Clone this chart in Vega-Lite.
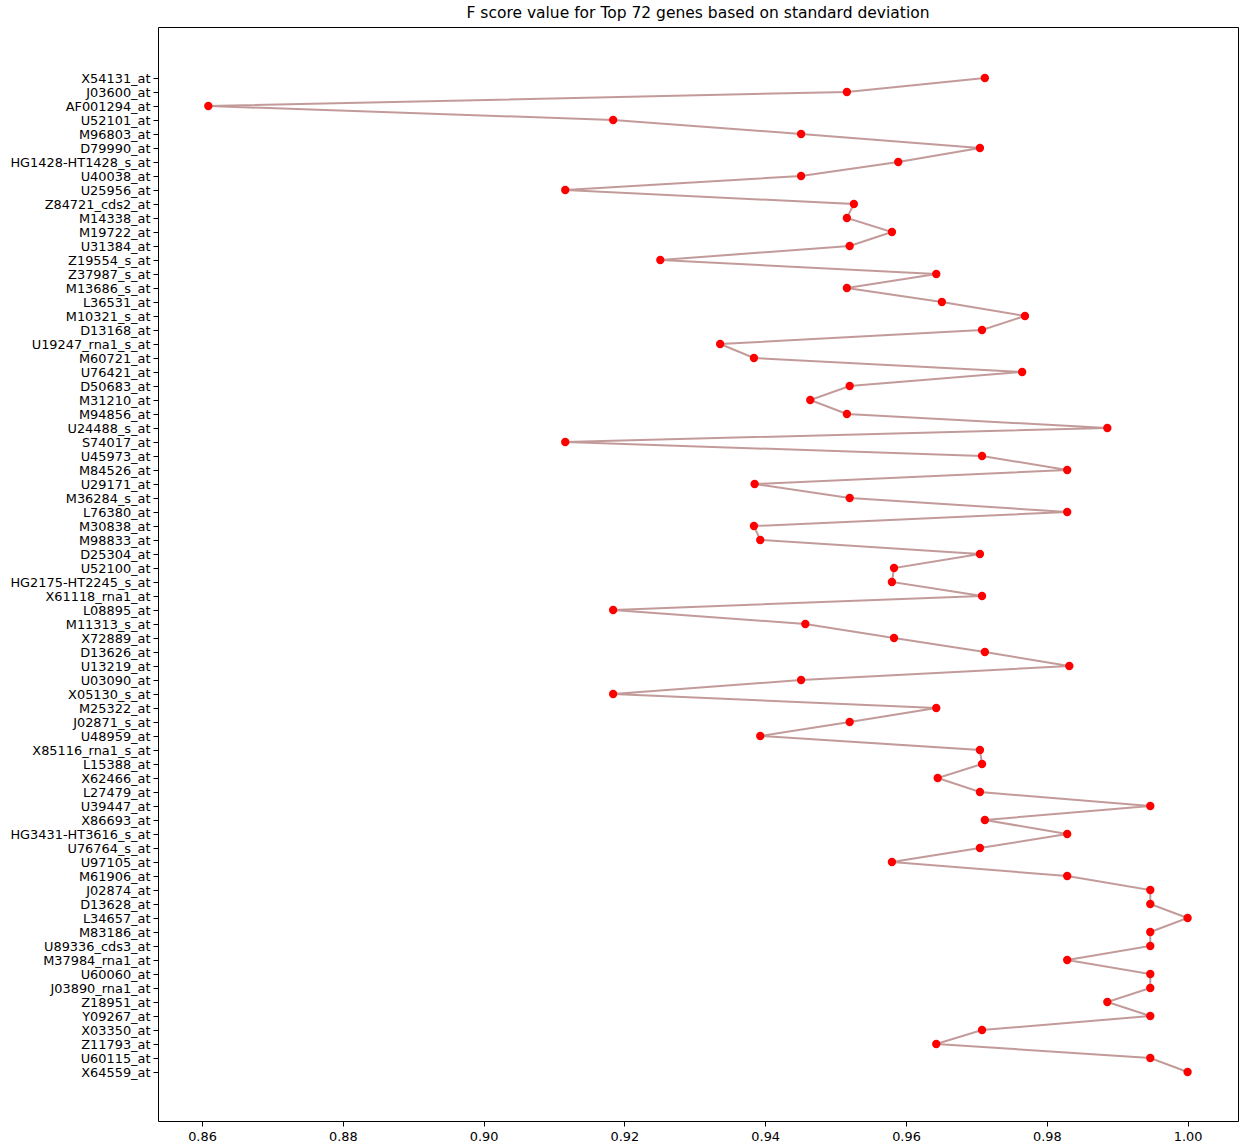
{
  "$schema": "https://vega.github.io/schema/vega-lite/v6.json",
  "autosize": {"type": "none"},
  "padding": {"left": 158, "top": 27, "right": 1, "bottom": 26},
  "width": 1080,
  "height": 1094,
  "background": "white",
  "title": {"text": "F score value for Top 72 genes based on standard deviation", "font": "DejaVu Sans", "fontSize": 15.5, "fontWeight": "normal", "color": "black", "offset": 6},
  "config": {
    "view": {"stroke": "black", "strokeWidth": 1},
    "axis": {"labelFont": "DejaVu Sans", "labelFontSize": 12.9, "labelColor": "black", "tickColor": "black", "domain": false, "grid": false, "title": null, "tickSize": 5}
  },
  "data": {"values": [
    {"i": 1, "gene": "X54131_at", "f": 0.9712},
    {"i": 2, "gene": "J03600_at", "f": 0.9516},
    {"i": 3, "gene": "AF001294_at", "f": 0.8609},
    {"i": 4, "gene": "U52101_at", "f": 0.9184},
    {"i": 5, "gene": "M96803_at", "f": 0.9451},
    {"i": 6, "gene": "D79990_at", "f": 0.9705},
    {"i": 7, "gene": "HG1428-HT1428_s_at", "f": 0.9589},
    {"i": 8, "gene": "U40038_at", "f": 0.9451},
    {"i": 9, "gene": "U25956_at", "f": 0.9116},
    {"i": 10, "gene": "Z84721_cds2_at", "f": 0.9526},
    {"i": 11, "gene": "M14338_at", "f": 0.9516},
    {"i": 12, "gene": "M19722_at", "f": 0.958},
    {"i": 13, "gene": "U31384_at", "f": 0.952},
    {"i": 14, "gene": "Z19554_s_at", "f": 0.9251},
    {"i": 15, "gene": "Z37987_s_at", "f": 0.9643},
    {"i": 16, "gene": "M13686_s_at", "f": 0.9516},
    {"i": 17, "gene": "L36531_at", "f": 0.9651},
    {"i": 18, "gene": "M10321_s_at", "f": 0.9769},
    {"i": 19, "gene": "D13168_at", "f": 0.9708},
    {"i": 20, "gene": "U19247_rna1_s_at", "f": 0.9336},
    {"i": 21, "gene": "M60721_at", "f": 0.9384},
    {"i": 22, "gene": "U76421_at", "f": 0.9765},
    {"i": 23, "gene": "D50683_at", "f": 0.952},
    {"i": 24, "gene": "M31210_at", "f": 0.9464},
    {"i": 25, "gene": "M94856_at", "f": 0.9516},
    {"i": 26, "gene": "U24488_s_at", "f": 0.9886},
    {"i": 27, "gene": "S74017_at", "f": 0.9116},
    {"i": 28, "gene": "U45973_at", "f": 0.9708},
    {"i": 29, "gene": "M84526_at", "f": 0.9829},
    {"i": 30, "gene": "U29171_at", "f": 0.9385},
    {"i": 31, "gene": "M36284_s_at", "f": 0.952},
    {"i": 32, "gene": "L76380_at", "f": 0.9829},
    {"i": 33, "gene": "M30838_at", "f": 0.9384},
    {"i": 34, "gene": "M98833_at", "f": 0.9393},
    {"i": 35, "gene": "D25304_at", "f": 0.9705},
    {"i": 36, "gene": "U52100_at", "f": 0.9583},
    {"i": 37, "gene": "HG2175-HT2245_s_at", "f": 0.958},
    {"i": 38, "gene": "X61118_rna1_at", "f": 0.9708},
    {"i": 39, "gene": "L08895_at", "f": 0.9184},
    {"i": 40, "gene": "M11313_s_at", "f": 0.9457},
    {"i": 41, "gene": "X72889_at", "f": 0.9583},
    {"i": 42, "gene": "D13626_at", "f": 0.9712},
    {"i": 43, "gene": "U13219_at", "f": 0.9832},
    {"i": 44, "gene": "U03090_at", "f": 0.9451},
    {"i": 45, "gene": "X05130_s_at", "f": 0.9184},
    {"i": 46, "gene": "M25322_at", "f": 0.9643},
    {"i": 47, "gene": "J02871_s_at", "f": 0.952},
    {"i": 48, "gene": "U48959_at", "f": 0.9393},
    {"i": 49, "gene": "X85116_rna1_s_at", "f": 0.9705},
    {"i": 50, "gene": "L15388_at", "f": 0.9708},
    {"i": 51, "gene": "X62466_at", "f": 0.9645},
    {"i": 52, "gene": "L27479_at", "f": 0.9705},
    {"i": 53, "gene": "U39447_at", "f": 0.9947},
    {"i": 54, "gene": "X86693_at", "f": 0.9712},
    {"i": 55, "gene": "HG3431-HT3616_s_at", "f": 0.9829},
    {"i": 56, "gene": "U76764_s_at", "f": 0.9705},
    {"i": 57, "gene": "U97105_at", "f": 0.958},
    {"i": 58, "gene": "M61906_at", "f": 0.9829},
    {"i": 59, "gene": "J02874_at", "f": 0.9947},
    {"i": 60, "gene": "D13628_at", "f": 0.9947},
    {"i": 61, "gene": "L34657_at", "f": 1.0},
    {"i": 62, "gene": "M83186_at", "f": 0.9947},
    {"i": 63, "gene": "U89336_cds3_at", "f": 0.9947},
    {"i": 64, "gene": "M37984_rna1_at", "f": 0.9829},
    {"i": 65, "gene": "U60060_at", "f": 0.9947},
    {"i": 66, "gene": "J03890_rna1_at", "f": 0.9947},
    {"i": 67, "gene": "Z18951_at", "f": 0.9886},
    {"i": 68, "gene": "Y09267_at", "f": 0.9947},
    {"i": 69, "gene": "X03350_at", "f": 0.9708},
    {"i": 70, "gene": "Z11793_at", "f": 0.9643},
    {"i": 71, "gene": "U60115_at", "f": 0.9947},
    {"i": 72, "gene": "X64559_at", "f": 1.0}
  ]},
  "encoding": {
    "x": {"field": "f", "type": "quantitative", "scale": {"domain": [0.85375, 1.00716], "nice": false, "zero": false},
          "axis": {"values": [0.86, 0.88, 0.90, 0.92, 0.94, 0.96, 0.98, 1.0], "format": ".2f", "labelPadding": 4}},
    "y": {"field": "gene", "type": "nominal", "sort": {"field": "i", "order": "ascending"}, "scale": {"type": "point", "padding": 0, "range": [51, 1045]},
          "axis": {"labelPadding": 3}}
  },
  "layer": [
    {"mark": {"type": "line", "color": "#bc8f8f", "strokeWidth": 2, "opacity": 0.9}, "encoding": {"order": {"field": "i", "type": "quantitative"}}},
    {"mark": {"type": "point", "filled": true, "color": "red", "opacity": 1, "size": 70}}
  ]
}
